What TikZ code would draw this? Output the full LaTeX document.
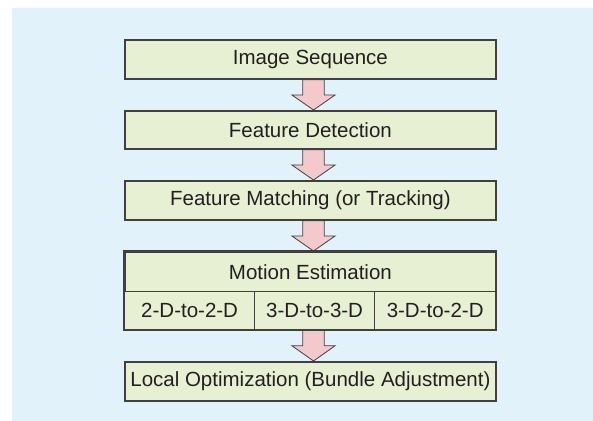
\documentclass[tikz,border=0pt]{standalone}
\usepackage{fontspec}
\setmainfont{Liberation Sans}
\usetikzlibrary{calc,positioning}
\definecolor{bgblue}{HTML}{E2F2FA}
\definecolor{boxfill}{HTML}{E8F0D4}
\definecolor{boxline}{HTML}{404040}
\definecolor{arrfill}{HTML}{F4C9CC}
\definecolor{txt}{HTML}{231F20}
\pgfdeclarelayer{bg}
\pgfdeclarelayer{mid}
\pgfsetlayers{bg,mid,main}
\tikzset{
  stagebox/.style={draw=boxline, fill=boxfill, line width=1.8pt, rectangle,
    inner sep=0pt, anchor=north west, text=txt,
    font=\fontsize{20.5}{24}\selectfont},
  cellbox/.style={stagebox, line width=1.3pt},
  bigarr/.style={draw=boxline, fill=arrfill, line width=0.8pt, line join=miter},
}
\newcommand{\flowarrow}[2]{%
  \begin{pgfonlayer}{mid}
  \path let \p1=(#1.south), \p2=(#2.north) in
    coordinate (tmpA) at (313.5,\y1)
    coordinate (tmpB) at (313.5,\y2)
    coordinate (tmpM) at (313.5,{0.5*(\y1+\y2)});
  \draw[bigarr] ($(tmpA)+(-10.7pt,0)$) -- ($(tmpM)+(-10.7pt,0)$) -- ($(tmpM)+(-21.7pt,0)$)
    -- (tmpB) -- ($(tmpM)+(21.7pt,0)$) -- ($(tmpM)+(10.7pt,0)$) -- ($(tmpA)+(10.7pt,0)$) -- cycle;
  \end{pgfonlayer}}
\begin{document}
\begin{tikzpicture}[x=1pt,y=-1pt]
\useasboundingbox (0,0) rectangle (593,420);
\begin{pgfonlayer}{bg}
\fill[bgblue] (12,8) rectangle (610,440);
\end{pgfonlayer}
\node[stagebox, minimum width=371pt, minimum height=39pt] (seq) at (124,39) {Image Sequence};
\node[stagebox, minimum width=371pt, minimum height=38pt] (det) at (124,110) {Feature Detection};
\node[stagebox, minimum width=371pt, minimum height=39pt] (mat) at (124,180) {Feature Matching (or Tracking)};
\node[stagebox, minimum width=371pt, minimum height=40pt] (mot) at (124,251) {Motion Estimation};
\node[cellbox, minimum width=130pt, minimum height=38pt] (c1) at (124,291) {2-D-to-2-D};
\node[cellbox, minimum width=120pt, minimum height=38pt] (c2) at (254,291) {3-D-to-3-D};
\node[cellbox, minimum width=121pt, minimum height=38pt] (c3) at (374,291) {3-D-to-2-D};
\draw[draw=boxline, line width=1.8pt] (mot.north west) rectangle (c3.south east);
\node[stagebox, minimum width=371pt, minimum height=39pt] (opt) at (124,361) {Local Optimization (Bundle Adjustment)};
\flowarrow{seq}{det}
\flowarrow{det}{mat}
\flowarrow{mat}{mot}
\flowarrow{c2}{opt}
\end{tikzpicture}
\end{document}
